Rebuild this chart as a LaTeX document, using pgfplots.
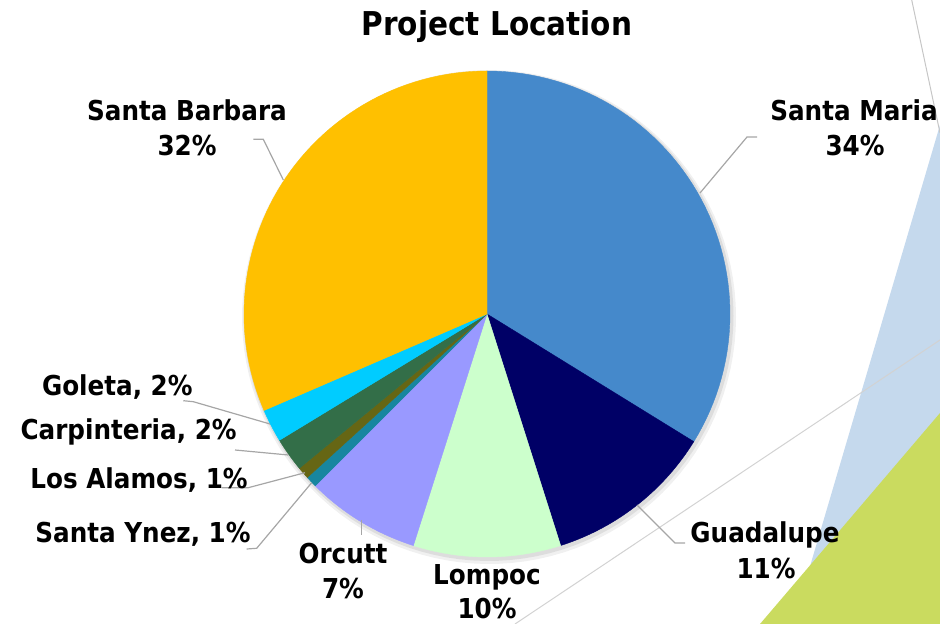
\documentclass[border=0pt]{standalone}
\usepackage{pgfplots}
\pgfplotsset{compat=1.18}
\usepackage{fontspec}
\setmainfont{DejaVu Sans Condensed}
\definecolor{cSM}{HTML}{4589CB}
\definecolor{cGU}{HTML}{000066}
\definecolor{cLO}{HTML}{CCFFCC}
\definecolor{cOR}{HTML}{9999FF}
\definecolor{cSY}{HTML}{17869F}
\definecolor{cLA}{HTML}{666614}
\definecolor{cCA}{HTML}{336E48}
\definecolor{cGO}{HTML}{00CCFF}
\definecolor{cSB}{HTML}{FFC000}
\definecolor{bgblue}{HTML}{C5D9ED}
\definecolor{bggreen}{HTML}{CADB5F}
\definecolor{leader}{HTML}{A6A6A6}
% slice: start percent, value percent, colour
\newcommand{\slice}[3]{%
  \addplot[fill=#3, draw=#3, line width=0.2pt, domain={90-3.6*(#1+#2)}:{90-3.6*(#1)}, samples=60, variable=\t]
    ({487+243*cos(\t)}, {310+243*sin(\t)}) -- (axis cs:487,310) -- cycle;}
\newcommand{\lfont}{\bfseries\fontsize{13.7}{16}\selectfont}
\newcommand{\lab}[3]{\node[anchor=base, inner sep=0pt, font=\lfont] at (axis cs:#1,#2) {#3};}
\begin{document}
\begin{tikzpicture}
\begin{axis}[width=470pt, height=312pt, scale only axis, xmin=0, xmax=940, ymin=0, ymax=624, hide axis, clip=true]
% background decoration
\addplot[fill=bgblue, draw=none] coordinates {(940,499) (793,0) (940,0)} -- cycle;
\addplot[fill=bggreen, draw=none] coordinates {(940,211) (760,0) (940,0)} -- cycle;
\addplot[draw=gray!45, line width=0.5pt] coordinates {(911.7,624) (940,491)};
\addplot[draw=gray!35, line width=0.5pt] coordinates {(940,284) (515,0)};
% soft shadow of the pie
\addplot[fill=black, fill opacity=0.06, draw=none, domain=0:360, samples=120, variable=\t] ({489+247*cos(\t)}, {307+247*sin(\t)}) -- cycle;
\addplot[fill=black, fill opacity=0.08, draw=none, domain=0:360, samples=120, variable=\t] ({488.5+245*cos(\t)}, {308+245*sin(\t)}) -- cycle;
% pie slices (percent)
\slice{0}{33.8}{cSM}
\slice{33.8}{11.3}{cGU}
\slice{45.1}{9.8}{cLO}
\slice{54.9}{7.6}{cOR}
\slice{62.5}{0.75}{cSY}
\slice{63.25}{0.8}{cLA}
\slice{64.05}{2.25}{cCA}
\slice{66.3}{2.2}{cGO}
\slice{68.5}{31.5}{cSB}
% leader lines
\addplot[leader, line width=0.6pt] coordinates {(700,431) (747,487) (757,487)};
\addplot[leader, line width=0.6pt] coordinates {(637,119) (675,81) (685,81)};
\addplot[leader, line width=0.6pt] coordinates {(361.7,104) (361.7,89)};
\addplot[leader, line width=0.6pt] coordinates {(311.7,141.3) (256.7,75.7) (246.7,75)};
\addplot[leader, line width=0.6pt] coordinates {(305,151.3) (248.3,136.3) (221.7,136.3)};
\addplot[leader, line width=0.6pt] coordinates {(288.3,169) (235,174)};
\addplot[leader, line width=0.6pt] coordinates {(270,200) (193.3,222.3) (183.3,223.3)};
\addplot[leader, line width=0.6pt] coordinates {(283.3,444) (263.3,484.7) (253.3,484.7)};
% title
\node[anchor=base, inner sep=0pt, font=\bfseries\fontsize{16.4}{19}\selectfont] at (axis cs:497,588) {Project Location};
% labels
\lab{187}{503}{Santa Barbara}
\lab{187}{468}{32\%}
\lab{854}{503.3}{Santa Maria}
\lab{855}{468}{34\%}
\lab{765}{81.3}{Guadalupe}
\lab{766}{45.7}{11\%}
\lab{487}{39}{Lompoc}
\lab{487}{5}{10\%}
\lab{343}{60}{Orcutt}
\lab{343}{25}{7\%}
\node[anchor=base east, inner sep=0pt, font=\lfont] at (axis cs:193,228) {Goleta, 2\%};
\node[anchor=base east, inner sep=0pt, font=\lfont] at (axis cs:237,184) {Carpinteria, 2\%};
\node[anchor=base east, inner sep=0pt, font=\lfont] at (axis cs:248,135.7) {Los Alamos, 1\%};
\node[anchor=base east, inner sep=0pt, font=\lfont] at (axis cs:251,81.3) {Santa Ynez, 1\%};
\end{axis}
\pgfresetboundingbox
\useasboundingbox (current axis.south west) rectangle (current axis.north east);
\end{tikzpicture}
\end{document}
